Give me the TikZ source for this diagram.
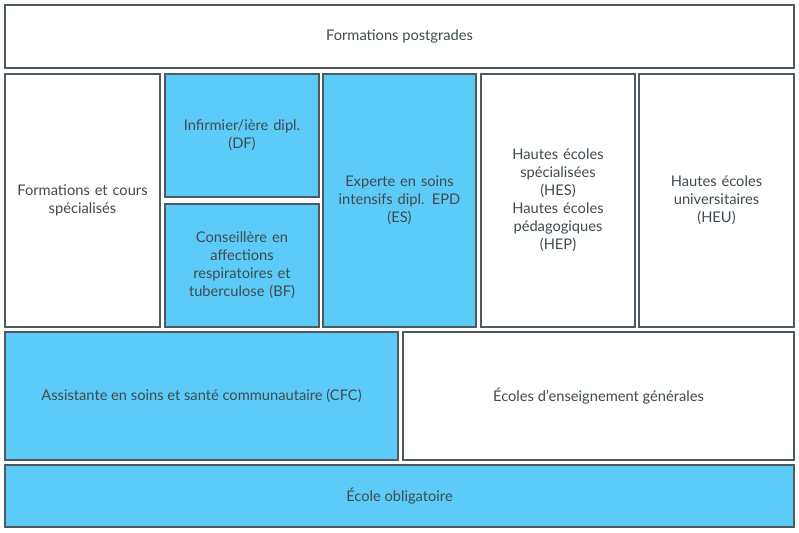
\documentclass[tikz,border=0pt]{standalone}
\usepackage{fontspec}
\setmainfont{Lato}
\usetikzlibrary{positioning}
\definecolor{edge}{HTML}{4F5A60}
\definecolor{sky}{HTML}{5DCBF7}
\definecolor{ink}{HTML}{3F4A50}

\begin{document}
\begin{tikzpicture}[x=0.75pt,y=-0.75pt,font=\fontsize{11}{13.5}\selectfont,
  box/.style={draw=edge,line width=1.1pt,fill=white,text=ink,align=center,inner sep=2pt},
  bluebox/.style={box,fill=sky}]

  \fill[white] (0,0) rectangle (799,532);

  \node[box,minimum width=789*0.75pt,minimum height=63*0.75pt]   (post)  at (399.5,36.5) {Formations postgrades};
  \node[box,minimum width=155*0.75pt,minimum height=253*0.75pt,text width=145*0.75pt] (cours) at (82.5,200.5) {Formations et cours\\spécialisés};
  \node[bluebox,minimum width=154*0.75pt,minimum height=123*0.75pt,text width=140*0.75pt] (inf) at (242,135.5) {Infirmier/ière dipl.\\(DF)};
  \node[bluebox,minimum width=154*0.75pt,minimum height=123*0.75pt,text width=140*0.75pt] (cons) at (242,265.5) {Conseillère en\\affections\\respiratoires et\\tuberculose (BF)};
  \node[bluebox,minimum width=153*0.75pt,minimum height=253*0.75pt,text width=140*0.75pt] (exp) at (399.5,200.5) {Experte en soins\\intensifs dipl. EPD\\(ES)};
  \node[box,minimum width=154*0.75pt,minimum height=253*0.75pt,text width=140*0.75pt] (hes) at (558,200.5) {Hautes écoles\\spécialisées\\(HES)\\Hautes écoles\\pédagogiques\\(HEP)};
  \node[box,minimum width=155*0.75pt,minimum height=253*0.75pt,text width=140*0.75pt] (heu) at (716.5,200.5) {Hautes écoles\\universitaires\\(HEU)};
  \node[bluebox,minimum width=393*0.75pt,minimum height=128*0.75pt] (cfc) at (201.5,396) {Assistante en soins et santé communautaire (CFC)};
  \node[box,minimum width=391*0.75pt,minimum height=128*0.75pt] (gen) at (598.5,396) {Écoles d’enseignement générales};
  \node[bluebox,minimum width=789*0.75pt,minimum height=62*0.75pt] (obl) at (399.5,496) {École obligatoire};
\end{tikzpicture}
\end{document}
